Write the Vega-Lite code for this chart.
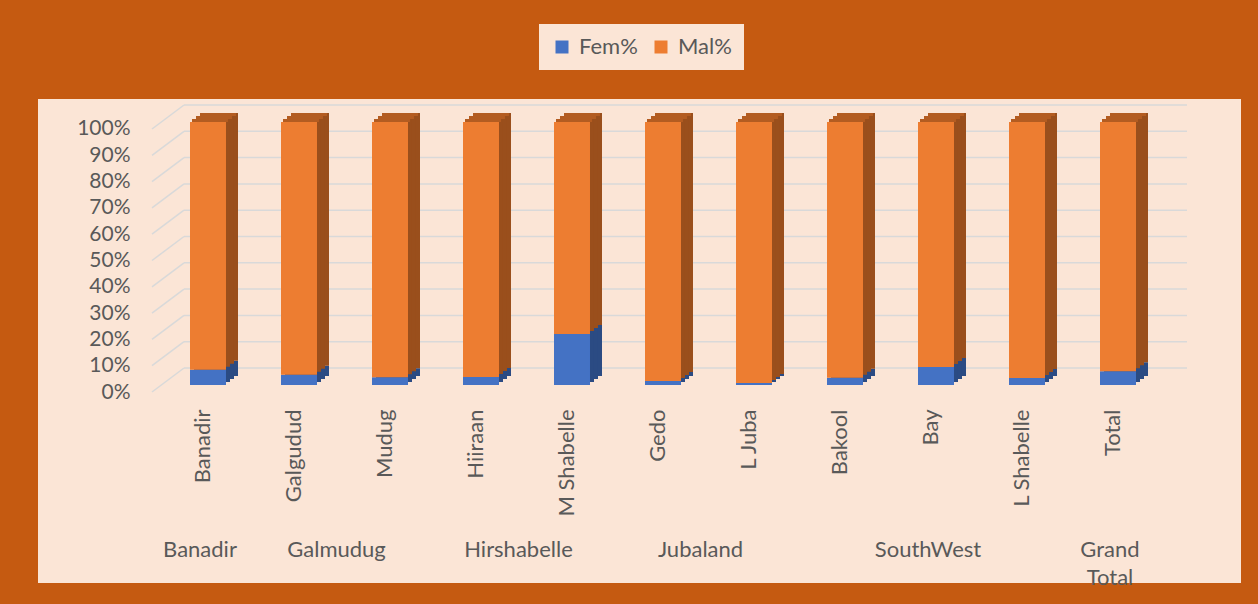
{
  "$schema": "https://vega.github.io/schema/vega-lite/v6.json",
  "width": 1203,
  "height": 484,
  "autosize": {"type": "none"},
  "padding": {"left": 38, "top": 99, "right": 17, "bottom": 21},
  "background": "#C55A11",
  "config": {
    "view": {"fill": "#FBE5D6", "stroke": null},
    "font": "Lato",
    "axisX": {
      "domain": false, "ticks": false, "grid": false,
      "labelAngle": -90, "labelAlign": "right", "labelBaseline": "middle", "labelPadding": 0,
      "labelOffset": -5, "labelFont": "Lato", "labelFontSize": 22, "labelColor": "#595959",
      "labelOverlap": false, "labelLimit": 300, "offset": -174
    },
    "axisY": {
      "domain": false, "ticks": false, "grid": false, "labelPadding": 0,
      "labelOffset": 7, "labelFont": "Lato", "labelFontSize": 21, "labelColor": "#595959",
      "offset": -92, "format": ".0%"
    }
  },
  "datasets": {
    "shares": [
      {"region": "Banadir", "group": "Banadir", "series": "Fem%", "value": 5.8},
      {"region": "Banadir", "group": "Banadir", "series": "Mal%", "value": 94.2},
      {"region": "Galgudud", "group": "Galmudug", "series": "Fem%", "value": 3.9},
      {"region": "Galgudud", "group": "Galmudug", "series": "Mal%", "value": 96.1},
      {"region": "Mudug", "group": "Galmudug", "series": "Fem%", "value": 2.9},
      {"region": "Mudug", "group": "Galmudug", "series": "Mal%", "value": 97.1},
      {"region": "Hiiraan", "group": "Hirshabelle", "series": "Fem%", "value": 3.0},
      {"region": "Hiiraan", "group": "Hirshabelle", "series": "Mal%", "value": 97.0},
      {"region": "M Shabelle", "group": "Hirshabelle", "series": "Fem%", "value": 19.4},
      {"region": "M Shabelle", "group": "Hirshabelle", "series": "Mal%", "value": 80.6},
      {"region": "Gedo", "group": "Jubaland", "series": "Fem%", "value": 1.5},
      {"region": "Gedo", "group": "Jubaland", "series": "Mal%", "value": 98.5},
      {"region": "L Juba", "group": "Jubaland", "series": "Fem%", "value": 0.8},
      {"region": "L Juba", "group": "Jubaland", "series": "Mal%", "value": 99.2},
      {"region": "Bakool", "group": "SouthWest", "series": "Fem%", "value": 2.8},
      {"region": "Bakool", "group": "SouthWest", "series": "Mal%", "value": 97.2},
      {"region": "Bay", "group": "SouthWest", "series": "Fem%", "value": 6.8},
      {"region": "Bay", "group": "SouthWest", "series": "Mal%", "value": 93.2},
      {"region": "L Shabelle", "group": "SouthWest", "series": "Fem%", "value": 2.7},
      {"region": "L Shabelle", "group": "SouthWest", "series": "Mal%", "value": 97.3},
      {"region": "Total", "group": "Grand Total", "series": "Fem%", "value": 5.2},
      {"region": "Total", "group": "Grand Total", "series": "Mal%", "value": 94.8}
    ],
    "ticks": [
      {"v": 0}, {"v": 0.1}, {"v": 0.2}, {"v": 0.3}, {"v": 0.4}, {"v": 0.5},
      {"v": 0.6}, {"v": 0.7}, {"v": 0.8}, {"v": 0.9}, {"v": 1}
    ]
  },
  "layer": [
    {
      "layer": [
        {
          "data": {"name": "ticks"},
          "mark": {"type": "rule", "color": "#D9D9D9", "strokeWidth": 1.5, "xOffset": -24, "x2Offset": 69, "yOffset": -17},
          "encoding": {
            "x": {"datum": "Banadir", "title": null},
            "x2": {"datum": "Total"},
            "y": {"field": "v", "type": "quantitative", "title": null}
          }
        },
        {
          "data": {"name": "ticks"},
          "mark": {"type": "rule", "color": "#D9D9D9", "strokeWidth": 1.5, "xOffset": -56, "x2Offset": -24, "yOffset": 7, "y2Offset": -17},
          "encoding": {
            "x": {"datum": "Banadir", "title": null},
            "x2": {"datum": "Banadir"},
            "y": {"field": "v", "type": "quantitative", "title": null},
            "y2": {"field": "v"}
          }
        },
        {
          "data": {"name": "shares"},
          "transform": [
            {"stack": "value", "groupby": ["region"], "sort": [{"field": "series", "order": "ascending"}], "offset": "normalize", "as": ["y0", "y1"]}
          ],
          "mark": {"type": "bar", "xOffset": 12, "yOffset": -9, "y2Offset": -9},
          "encoding": {
            "x": {"field": "region", "type": "nominal", "sort": null, "title": null},
            "y": {"field": "y1", "type": "quantitative", "title": null},
            "y2": {"field": "y0"},
            "fill": {"condition": {"test": "datum.series === 'Fem%'", "value": "#2B4B83"}, "value": "#9A4F1C"}
          }
        },
        {
          "data": {"name": "shares"},
          "transform": [
            {"stack": "value", "groupby": ["region"], "sort": [{"field": "series", "order": "ascending"}], "offset": "normalize", "as": ["y0", "y1"]}
          ],
          "mark": {"type": "bar", "xOffset": 8, "yOffset": -6, "y2Offset": -6},
          "encoding": {
            "x": {"field": "region", "type": "nominal", "sort": null, "title": null},
            "y": {"field": "y1", "type": "quantitative", "title": null},
            "y2": {"field": "y0"},
            "fill": {"condition": {"test": "datum.series === 'Fem%'", "value": "#2B4B83"}, "value": "#9A4F1C"}
          }
        },
        {
          "data": {"name": "shares"},
          "transform": [
            {"stack": "value", "groupby": ["region"], "sort": [{"field": "series", "order": "ascending"}], "offset": "normalize", "as": ["y0", "y1"]}
          ],
          "mark": {"type": "bar", "xOffset": 4, "yOffset": -3, "y2Offset": -3},
          "encoding": {
            "x": {"field": "region", "type": "nominal", "sort": null, "title": null},
            "y": {"field": "y1", "type": "quantitative", "title": null},
            "y2": {"field": "y0"},
            "fill": {"condition": {"test": "datum.series === 'Fem%'", "value": "#2B4B83"}, "value": "#9A4F1C"}
          }
        },
        {
          "data": {"name": "shares"},
          "transform": [{"filter": "datum.series === 'Mal%'"}],
          "mark": {"type": "bar", "color": "#B35C21", "xOffset": 10, "yOffset": -9, "y2Offset": -6},
          "encoding": {
            "x": {"field": "region", "type": "nominal", "sort": null, "title": null},
            "y": {"datum": 1, "type": "quantitative", "title": null},
            "y2": {"datum": 1}
          }
        },
        {
          "data": {"name": "shares"},
          "transform": [{"filter": "datum.series === 'Mal%'"}],
          "mark": {"type": "bar", "color": "#B35C21", "xOffset": 6, "yOffset": -6, "y2Offset": -3},
          "encoding": {
            "x": {"field": "region", "type": "nominal", "sort": null, "title": null},
            "y": {"datum": 1, "type": "quantitative", "title": null},
            "y2": {"datum": 1}
          }
        },
        {
          "data": {"name": "shares"},
          "transform": [{"filter": "datum.series === 'Mal%'"}],
          "mark": {"type": "bar", "color": "#B35C21", "xOffset": 2, "yOffset": -3, "y2Offset": 0},
          "encoding": {
            "x": {"field": "region", "type": "nominal", "sort": null, "title": null},
            "y": {"datum": 1, "type": "quantitative", "title": null},
            "y2": {"datum": 1}
          }
        },
        {
          "data": {"name": "shares"},
          "transform": [
            {"stack": "value", "groupby": ["region"], "sort": [{"field": "series", "order": "ascending"}], "offset": "normalize", "as": ["y0", "y1"]}
          ],
          "mark": {"type": "bar"},
          "encoding": {
            "x": {
              "field": "region", "type": "nominal", "sort": null, "title": null,
              "scale": {
                "domain": ["Banadir", "Galgudud", "Mudug", "Hiiraan", "M Shabelle", "Gedo", "L Juba", "Bakool", "Bay", "L Shabelle", "Total"],
                "range": [152, 1098], "paddingInner": 0.6044, "paddingOuter": 0
              },
              "axis": {"offset": -174}
            },
            "y": {
              "field": "y1", "type": "quantitative", "title": null,
              "scale": {"domain": [-0.75285, 1.08745], "nice": false, "zero": false},
              "axis": {"values": [0, 0.1, 0.2, 0.3, 0.4, 0.5, 0.6, 0.7, 0.8, 0.9, 1], "format": ".0%", "offset": -92}
            },
            "y2": {"field": "y0"},
            "color": {
              "field": "series", "type": "nominal",
              "scale": {"domain": ["Fem%", "Mal%"], "range": ["#4472C4", "#ED7D31"]},
              "legend": {
                "orient": "none", "legendX": 501, "legendY": -75, "direction": "horizontal", "title": null,
                "symbolType": "square", "symbolSize": 169, "symbolStrokeWidth": 0,
                "labelFont": "Lato", "labelFontSize": 22, "labelColor": "#595959",
                "fillColor": "#FBE5D6", "padding": 12, "columnPadding": 12, "labelOffset": 6
              }
            }
          }
        }
      ]
    },
    {
      "data": {"name": "shares"},
      "transform": [
        {"filter": "datum.series === 'Fem%'"},
        {"window": [{"op": "row_number", "as": "idx"}]},
        {"aggregate": [{"op": "mean", "field": "idx", "as": "pos"}], "groupby": ["group"]}
      ],
      "mark": {
        "type": "text", "y": "height", "dy": -43, "dx": -8, "baseline": "top", "align": "center",
        "font": "Lato", "fontSize": 22, "color": "#595959", "lineBreak": " ", "lineHeight": 28
      },
      "encoding": {
        "x": {"field": "pos", "type": "quantitative", "scale": {"domain": [-0.8681, 12.3517], "nice": false, "zero": false}, "axis": null},
        "text": {"field": "group", "type": "nominal"}
      }
    }
  ],
  "resolve": {"scale": {"x": "independent"}}
}
